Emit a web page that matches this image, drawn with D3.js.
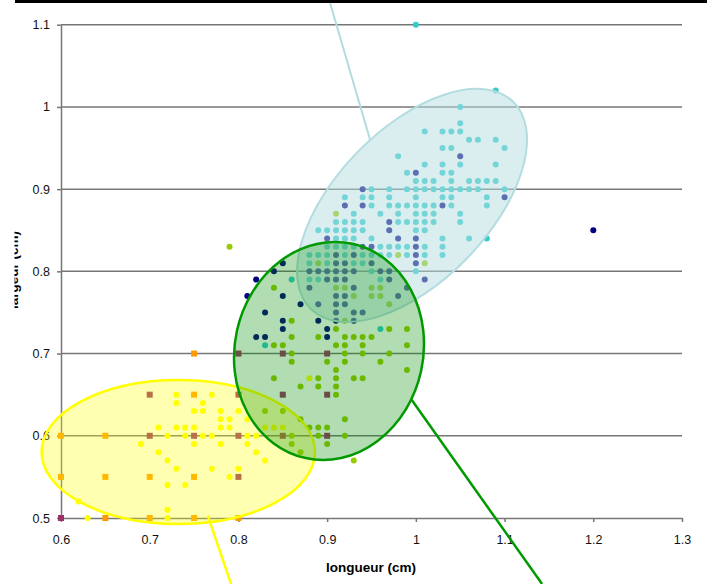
<!DOCTYPE html>
<html><head><meta charset="utf-8">
<script src="https://cdn.jsdelivr.net/npm/d3@7"></script>
<style>html,body{margin:0;padding:0;background:#fff;} svg{display:block;}</style>
</head><body>
<script>
// ---------- data ----------
const xTickValues = [0.6, 0.7, 0.8, 0.9, 1.0, 1.1, 1.2, 1.3];
const xTickLabels = ["0.6", "0.7", "0.8", "0.9", "1", "1.1", "1.2", "1.3"];
const yTickValues = [0.5, 0.6, 0.7, 0.8, 0.9, 1.0, 1.1];
const yTickLabels = ["0.5", "0.6", "0.7", "0.8", "0.9", "1", "1.1"];
const xTitle = "longueur (cm)";
const yTitle = "largeur (cm)";

const yellowPts = [[0.73,0.65],[0.77,0.65],[0.73,0.64],[0.76,0.64],[0.75,0.63],[0.76,0.63],[0.78,0.63],[0.80,0.63],
 [0.78,0.62],[0.79,0.62],[0.81,0.62],[0.71,0.61],[0.73,0.61],[0.74,0.61],[0.75,0.61],[0.78,0.61],[0.79,0.61],
 [0.83,0.61],[0.84,0.61],[0.85,0.61],[0.72,0.60],[0.74,0.60],[0.76,0.60],[0.77,0.60],[0.81,0.60],[0.82,0.60],
 [0.69,0.59],[0.75,0.59],[0.78,0.59],[0.81,0.59],[0.71,0.58],[0.82,0.58],[0.72,0.57],[0.83,0.57],[0.73,0.56],
 [0.77,0.56],[0.80,0.56],[0.79,0.55],[0.72,0.54],[0.74,0.54],[0.62,0.52],[0.72,0.51],[0.63,0.50],[0.72,0.50],[0.88,0.67]];
const orangeSq = [[0.60,0.60],[0.65,0.60],[0.60,0.55],[0.65,0.55],[0.70,0.55],[0.75,0.55],[0.65,0.50],[0.70,0.50],
 [0.75,0.50],[0.80,0.50],[0.75,0.65],[0.75,0.70]];
const plumSq = [[0.60,0.50],[0.70,0.65],[0.80,0.65],[0.85,0.65],[0.90,0.65],[0.70,0.60],[0.75,0.60],[0.80,0.60],
 [0.85,0.60],[0.90,0.60],[0.80,0.55],[0.80,0.70],[0.85,0.70],[0.90,0.70]];
const limePts = [[0.79,0.83],[0.91,0.87],[0.89,0.81],[0.98,0.82],[1.01,0.81],
 [0.84,0.78],[0.91,0.78],[0.92,0.78],[0.95,0.78],[0.96,0.78],[0.93,0.77],[0.95,0.77],[0.96,0.77],[0.97,0.76],
 [0.86,0.74],[0.92,0.74],[0.91,0.73],[0.97,0.73],[0.99,0.73],
 [0.86,0.72],[0.89,0.72],[0.92,0.72],[0.93,0.72],[0.94,0.72],[0.95,0.72],
 [0.84,0.71],[0.85,0.71],[0.91,0.71],[0.92,0.71],[0.94,0.71],[0.99,0.71],
 [0.86,0.70],[0.92,0.70],[0.94,0.70],[0.97,0.70],[0.86,0.69],[0.90,0.69],[0.92,0.69],[0.96,0.69],
 [0.91,0.68],[0.99,0.68],[0.84,0.67],[0.89,0.67],[0.91,0.67],[0.93,0.67],[0.94,0.67],
 [0.87,0.66],[0.89,0.66],[0.91,0.66],[0.91,0.65],[0.83,0.63],[0.85,0.63],[0.87,0.62],[0.92,0.62],
 [0.88,0.61],[0.89,0.61],[0.90,0.61],[0.86,0.60],[0.89,0.60],[0.92,0.60],[0.86,0.59],[0.90,0.59],
 [0.87,0.58],[0.93,0.57]];
const navyPts = [[0.85,0.81],[0.84,0.80],[0.82,0.79],[0.81,0.77],[0.85,0.77],[0.87,0.76],[0.89,0.76],[0.83,0.75],
 [0.85,0.74],[0.89,0.74],[0.85,0.73],[0.90,0.73],[0.82,0.72],[0.83,0.72],[0.90,0.72],[1.20,0.85],
 [0.91,0.82],[0.93,0.82],[0.91,0.81],[0.92,0.81],[0.95,0.81],[0.88,0.80],[0.89,0.80],[0.90,0.80],[0.91,0.80],
 [0.92,0.80],[0.93,0.80],[0.96,0.80],[0.97,0.80],[0.90,0.79],[0.91,0.79],[0.92,0.79],[0.97,0.79],
 [0.88,0.78],[0.93,0.78],[0.99,0.78],[0.91,0.77],[0.92,0.77],[0.98,0.77],[0.91,0.76],[0.92,0.76],
 [0.91,0.75],[0.93,0.75],[0.94,0.75],[0.91,0.74],[0.93,0.74],
 [0.94,0.90],[1.10,0.89],[0.92,0.88],[0.94,0.88],[1.03,0.88],[0.97,0.86],[0.97,0.85],[0.90,0.84],
 [0.98,0.84],[1.00,0.84],[0.94,0.83],[0.95,0.83],[1.00,0.83],[1.00,0.82],[1.00,0.81],[1.01,0.79],
 [1.05,0.94],[1.00,0.92]];
const cyanPts = [[1.00,1.10],[1.09,1.02],[1.05,1.00],[1.05,0.98],
 [1.01,0.97],[1.03,0.97],[1.04,0.97],[1.05,0.97],[1.06,0.96],[1.07,0.96],[1.09,0.96],
 [1.03,0.95],[1.04,0.95],[1.10,0.95],[0.98,0.94],[1.01,0.93],[1.03,0.93],[1.05,0.93],[1.09,0.93],
 [0.99,0.92],[1.03,0.92],[1.04,0.92],
 [1.00,0.91],[1.01,0.91],[1.02,0.91],[1.04,0.91],[1.06,0.91],[1.07,0.91],[1.08,0.91],[1.09,0.91],
 [0.95,0.90],[0.97,0.90],[0.99,0.90],[1.00,0.90],[1.01,0.90],[1.02,0.90],[1.03,0.90],[1.04,0.90],
 [1.05,0.90],[1.06,0.90],[1.07,0.90],[1.10,0.90],
 [0.92,0.89],[0.94,0.89],[0.95,0.89],[0.97,0.89],[1.00,0.89],[1.03,0.89],[1.04,0.89],[1.08,0.89],
 [0.95,0.88],[0.97,0.88],[0.98,0.88],[0.99,0.88],[1.00,0.88],[1.01,0.88],[1.02,0.88],[1.04,0.88],[1.08,0.88],
 [0.93,0.87],[0.96,0.87],[0.98,0.87],[1.00,0.87],[1.01,0.87],[1.02,0.87],[1.05,0.87],
 [0.91,0.86],[0.92,0.86],[0.93,0.86],[0.94,0.86],[0.98,0.86],[0.99,0.86],[1.00,0.86],[1.01,0.86],[1.02,0.86],[1.05,0.86],
 [0.89,0.85],[0.90,0.85],[0.91,0.85],[0.92,0.85],[0.93,0.85],[0.94,0.85],[1.00,0.85],[1.01,0.85],
 [0.91,0.84],[0.92,0.84],[0.93,0.84],[0.95,0.84],[1.03,0.84],[1.06,0.84],[1.08,0.84],
 [0.90,0.83],[0.91,0.83],[0.92,0.83],[0.93,0.83],[0.96,0.83],[0.97,0.83],[0.98,0.83],[0.99,0.83],[1.01,0.83],[1.03,0.83],
 [0.88,0.82],[0.89,0.82],[0.90,0.82],[0.92,0.82],[0.94,0.82],[0.95,0.82],[0.96,0.82],[0.97,0.82],[0.99,0.82],[1.01,0.82],[1.03,0.82],
 [0.88,0.81],[0.90,0.81],[0.93,0.81],[0.94,0.81],[0.95,0.80],[1.00,0.80],
 [0.86,0.79],[0.88,0.79],[0.89,0.79],[0.96,0.79],[0.96,0.73],[0.83,0.71]];

// ---------- layout ----------
const W = 714, H = 584;
const svg = d3.select("body").append("svg").attr("width", W).attr("height", H)
  .style("font-family", "'Liberation Sans', Arial, sans-serif");
const x = d3.scaleLinear().domain([0.6, 1.3]).range([61, 682]);
const y = d3.scaleLinear().domain([0.5, 1.1]).range([518, 24.7]);
const axisColor = "#777777";

// top dark band
svg.append("rect").attr("x", 15).attr("y", 0).attr("width", 692).attr("height", 3).attr("fill", "#000");

// grid
svg.append("g").selectAll("line").data(yTickValues.slice(1)).join("line")
  .attr("x1", x(0.6)).attr("x2", x(1.3)).attr("y1", d => y(d)).attr("y2", d => y(d))
  .attr("stroke", axisColor).attr("stroke-width", 1.5);

// axes
const gy = svg.append("g").attr("transform", `translate(${x(0.6)},0)`)
  .call(d3.axisLeft(y).tickValues(yTickValues).tickSize(4).tickSizeOuter(0).tickPadding(7)
    .tickFormat((d, i) => yTickLabels[i]));
const gx = svg.append("g").attr("transform", `translate(0,${y(0.5)})`)
  .call(d3.axisBottom(x).tickValues(xTickValues).tickSize(4).tickSizeOuter(0).tickPadding(13)
    .tickFormat((d, i) => xTickLabels[i]));
[gx, gy].forEach(g => {
  g.select(".domain").attr("stroke", axisColor).attr("stroke-width", 1.5);
  g.selectAll(".tick line").attr("stroke", axisColor).attr("stroke-width", 1.5);
  g.selectAll("text").attr("fill", "#111").style("font-size", "12.5px").style("font-family", "'Liberation Sans', Arial, sans-serif");
});
gx.selectAll("text").attr("dy", "0.71em");

// titles
svg.append("text").attr("x", 371).attr("y", 572).attr("text-anchor", "middle")
  .style("font-size", "13.5px").style("font-weight", "bold").attr("fill", "#000").text(xTitle);
svg.append("clipPath").attr("id", "yclip").append("rect").attr("x", 14.5).attr("y", 150).attr("width", 30).attr("height", 250);
svg.append("g").attr("clip-path", "url(#yclip)")
  .append("text").attr("transform", "translate(18,270) rotate(-90)").attr("text-anchor", "middle")
  .style("font-size", "13.5px").style("font-weight", "bold").attr("fill", "#000").text(yTitle);

// points
const pts = svg.append("g");
const circleSeries = [[yellowPts, "#ffff00"], [limePts, "#99cc00"], [navyPts, "#000080"], [cyanPts, "#33cccc"]];
const sq = 6;
pts.append("g").selectAll("rect").data(orangeSq).join("rect")
  .attr("x", d => x(d[0]) - sq / 2).attr("y", d => y(d[1]) - sq / 2).attr("width", sq).attr("height", sq).attr("fill", "#ff9900");
pts.append("g").selectAll("rect").data(plumSq).join("rect")
  .attr("x", d => x(d[0]) - sq / 2).attr("y", d => y(d[1]) - sq / 2).attr("width", sq).attr("height", sq).attr("fill", "#993366");
circleSeries.forEach(([data, col]) => {
  pts.append("g").selectAll("circle").data(data).join("circle")
    .attr("cx", d => x(d[0])).attr("cy", d => y(d[1])).attr("r", 3).attr("fill", col);
});

// ellipses (centres in data units, radii in px)
const ellipses = [
  { cx: 0.9957, cy: 0.8802, rx: 144.8, ry: 76.3, rot: -45.7, fill: "#b5dde1", op: 0.5, stroke: "#b3dce0", sw: 2 },
  { cx: 0.7322, cy: 0.5803, rx: 136.7, ry: 72, rot: 0, fill: "#ffff00", op: 0.3, stroke: "#ffff00", sw: 2.5 },
  { cx: 0.9021, cy: 0.7032, rx: 94.25, ry: 109.65, rot: 12.3, fill: "#008e00", op: 0.3, stroke: "#009900", sw: 2.5 }
];
ellipses.forEach(e => {
  const g = svg.append("g").attr("transform", `translate(${x(e.cx)},${y(e.cy)}) rotate(${e.rot})`);
  g.append("ellipse").attr("rx", e.rx).attr("ry", e.ry).attr("fill", e.fill).attr("fill-opacity", e.op);
  g.append("ellipse").attr("rx", e.rx).attr("ry", e.ry).attr("fill", "none").attr("stroke", e.stroke).attr("stroke-width", e.sw);
});

// leader lines (data units)
const leaders = [
  { a: [0.9033, 1.1265], b: [0.9484, 0.960], c: "#b3dce0", w: 2 },
  { a: [0.7654, 0.5028], b: [0.7917, 0.4197], c: "#ffff00", w: 2.5 },
  { a: [0.9954, 0.6436], b: [1.1423, 0.4197], c: "#009900", w: 2.5 }
];
svg.append("g").selectAll("line").data(leaders).join("line")
  .attr("x1", d => x(d.a[0])).attr("y1", d => y(d.a[1])).attr("x2", d => x(d.b[0])).attr("y2", d => y(d.b[1]))
  .attr("stroke", d => d.c).attr("stroke-width", d => d.w);
</script>
</body></html>
